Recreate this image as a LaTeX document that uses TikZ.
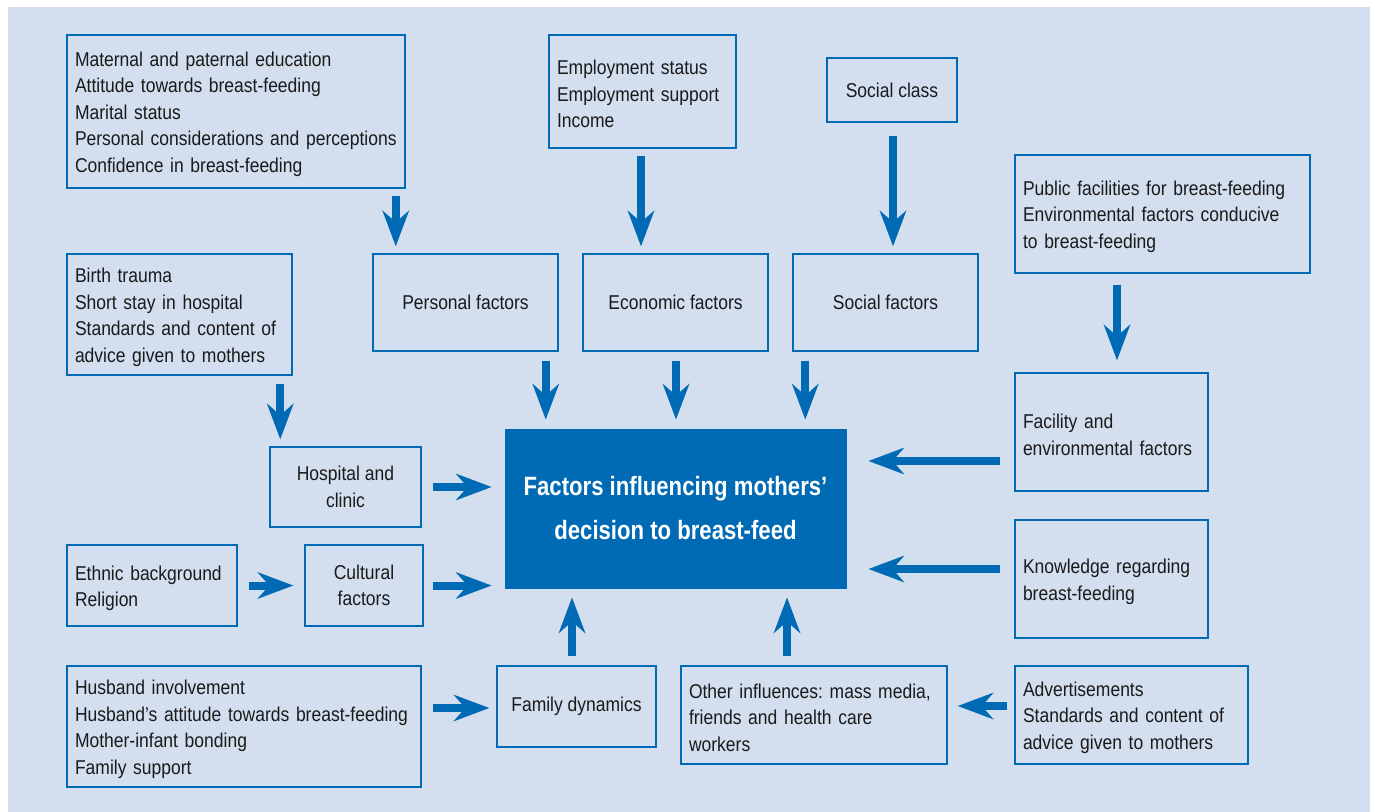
\documentclass[tikz,border=0pt]{standalone}
\usepackage{fontspec}
\setmainfont[FakeStretch=0.875]{Liberation Sans}
\newfontfamily\cenfont[FakeStretch=0.835]{Liberation Sans}
\usetikzlibrary{arrows.meta,calc}
\frenchspacing
\definecolor{bgblue}{HTML}{D3DEEF}
\definecolor{fblue}{HTML}{006AB5}
\definecolor{txt}{HTML}{1A1A1A}
\tikzset{
  box/.style={draw=fblue, line width=0.75pt, inner xsep=4pt, inner ysep=0pt,
    text=txt, font=\fontsize{10pt}{13.25pt}\selectfont},
  lbox/.style={box, align=left, execute at begin node={\rule{0pt}{10pt}}},
  cbox/.style={box, align=center},
  arr/.style={draw=fblue, line width=4pt,
    -{Stealth[length=18pt,width=13.5pt,inset=6pt,line width=0pt]}}
}
\begin{document}
\begin{tikzpicture}[x=0.5pt,y=-0.5pt]
\useasboundingbox (0,0) rectangle (1375,812);
\fill[bgblue] (8,7) rectangle (1370,812);

\node[lbox, text width=161pt, minimum height=76.5pt] (pl) at (236,111.5)
  {Maternal and paternal education\\Attitude towards breast-feeding\\Marital status\\\mbox{Personal considerations and perceptions}\\Confidence in breast-feeding};
\node[lbox, text width=85.5pt, minimum height=56.5pt] (emp) at (642.5,91.5)
  {Employment status\\Employment support\\Income};
\node[cbox, minimum width=65pt, minimum height=32pt] (sc) at (892,90) {Social class};
\node[lbox, text width=139.5pt, minimum height=59pt] (pub) at (1162.5,214)
  {\mbox{Public facilities for breast-feeding}\\\mbox{Environmental factors conducive}\\to breast-feeding};
\node[lbox, text width=104.5pt, minimum height=60.5pt] (bt) at (179.5,314.5)
  {Birth trauma\\Short stay in hospital\\\mbox{Standards and content of}\\\mbox{advice given to mothers}};
\node[cbox, minimum width=92.5pt, minimum height=48.5pt] (pf) at (465.5,302.5) {Personal factors};
\node[cbox, minimum width=92.5pt, minimum height=48.5pt] (ef) at (675.5,302.5) {Economic factors};
\node[cbox, minimum width=92.5pt, minimum height=48.5pt] (sf) at (885.5,302.5) {Social factors};
\node[lbox, text width=88.5pt, minimum height=59pt] (fac) at (1111.5,432)
  {Facility and\\\mbox{environmental factors}};
\node[cbox, minimum width=75.5pt, minimum height=40pt] (hos) at (345.5,487) {Hospital and\\clinic};
\node[fill=fblue, draw=fblue, line width=0.5pt, minimum width=170.5pt, minimum height=79.5pt,
  inner sep=0pt, align=center, text=white,
  font=\cenfont\bfseries\fontsize{13.25pt}{22pt}\selectfont] (cen) at (675.5,508.5)
  {Factors influencing mothers’\\decision to breast-feed};
\node[lbox, text width=88.5pt, minimum height=59pt] (kn) at (1111.5,579)
  {\mbox{Knowledge regarding}\\breast-feeding};
\node[lbox, text width=77pt, minimum height=40.5pt] (eth) at (152,585.5)
  {\mbox{Ethnic background}\\Religion};
\node[cbox, minimum width=59pt, minimum height=40.5pt] (cul) at (364,585.5) {Cultural\\factors};
\node[lbox, text width=169pt, minimum height=60.5pt] (hus) at (244,726.5)
  {Husband involvement\\\mbox{Husband’s attitude towards breast-feeding}\\Mother-infant bonding\\Family support};
\node[cbox, minimum width=79.5pt, minimum height=40.5pt] (fam) at (576.5,706.5) {Family dynamics};
\node[lbox, text width=125pt, minimum height=49pt] (oth) at (814,715)
  {\mbox{Other influences: mass media,}\\friends and health care\\workers};
\node[lbox, text width=108.5pt, minimum height=49pt] (ads) at (1131.5,715)
  {Advertisements\\\mbox{Standards and content of}\\\mbox{advice given to mothers}};

% arrows
\draw[arr] ($(pl.south east)+(-10,7)$) -- ($(pl.south east |- pf.north)+(-10,-7)$);
\draw[arr] ($(emp.south)+(-1.5,7)$) -- ($(emp.south |- ef.north)+(-1.5,-7)$);
\draw[arr] ($(sc.south)+(1,13)$) -- ($(sc.south |- sf.north)+(1,-7)$);
\draw[arr] ($(pub.south -| fac.north)+(5.5,11)$) -- ($(fac.north)+(5.5,-12)$);
\draw[arr] ($(bt.south -| hos.north west)+(11,8)$) -- ($(hos.north west)+(11,-7)$);
\draw[arr] ($(pf.south east)+(-13,9)$) -- ($(pf.south east |- cen.north)+(-13,-9)$);
\draw[arr] ($(ef.south)+(0.5,9)$) -- ($(ef.south |- cen.north)+(0.5,-9)$);
\draw[arr] ($(sf.south west)+(13,9)$) -- ($(sf.south west |- cen.north)+(13,-9)$);
\draw[arr] ($(fac.west)+(-14,29)$) -- ($(cen.east |- fac.west)+(22,29)$);
\draw[arr] ($(kn.west)+(-14,-10)$) -- ($(cen.east |- kn.west)+(22,-10)$);
\draw[arr] ($(hos.east)+(11,0)$) -- ($(cen.west |- hos.east)+(-13,0)$);
\draw[arr] ($(cul.east)+(9,0)$) -- ($(cen.west |- cul.east)+(-13,0)$);
\draw[arr] ($(eth.east)+(11,0)$) -- ($(cul.west)+(-11,0)$);
\draw[arr] ($(hus.east |- fam.west)+(11,1.5)$) -- ($(fam.west)+(-7,1.5)$);
\draw[arr] ($(fam.north)+(-4.5,-9)$) -- ($(cen.south -| fam.north)+(-4.5,9)$);
\draw[arr] ($(oth.north)+(-27,-9)$) -- ($(cen.south -| oth.north)+(-27,9)$);
\draw[arr] ($(ads.west)+(-7,-9)$) -- ($(oth.east |- ads.west)+(10,-9)$);
\end{tikzpicture}
\end{document}
